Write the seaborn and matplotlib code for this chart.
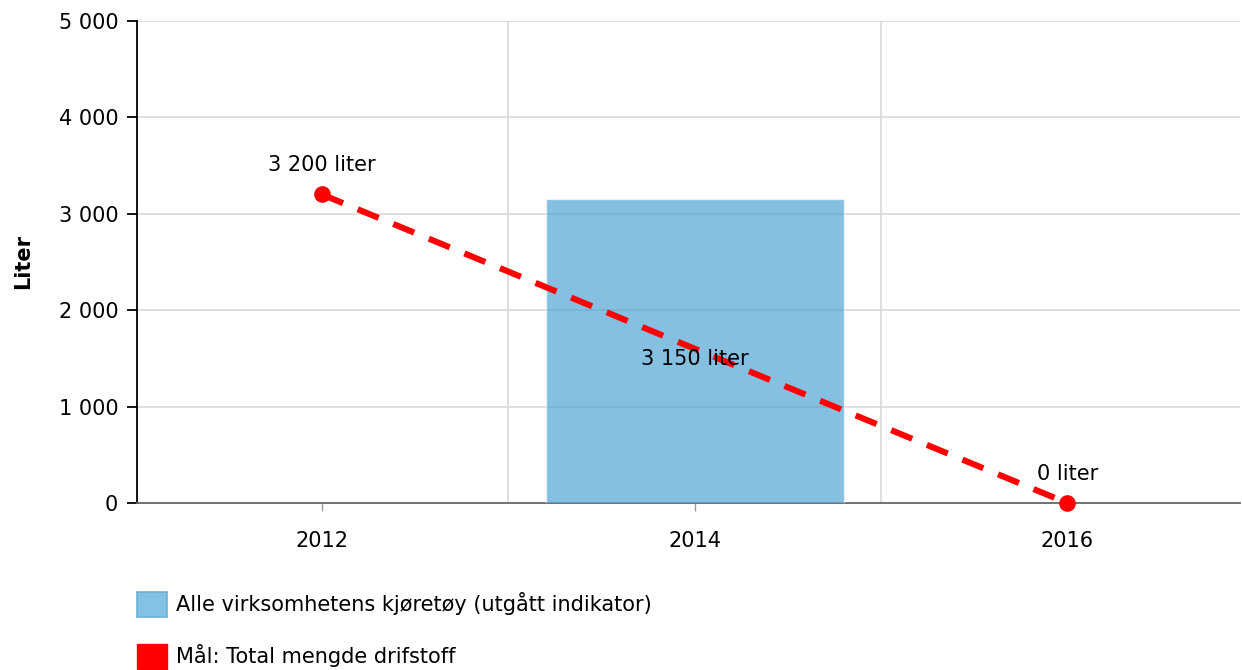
import matplotlib
matplotlib.use("Agg")
import matplotlib.pyplot as plt
import seaborn as sns
import pandas as pd
from matplotlib.patches import Patch

years = ["2012", "2014", "2016"]
bar_years = ["2014"]
bar_values = [3150]
goal_years = ["2012", "2016"]
goal_values = [3200, 0]
bar_name = "Alle virksomhetens kjøretøy (utgått indikator)"
goal_name = "Mål: Total mengde drifstoff"
y_ticks = [0, 1000, 2000, 3000, 4000, 5000]


def fmt(v):
    return f"{v:,}".replace(",", " ")


sns.set_theme(style="white")
plt.rcParams["font.family"] = ["DejaVu Sans"]
plt.rcParams["text.color"] = "black"
fs = 15

fig = plt.figure(figsize=(12.42, 6.70), dpi=100)
ax = fig.add_axes([0.1103, 0.2493, 0.8881, 0.7194])

bar_df = pd.DataFrame({"year": bar_years, "value": bar_values})
sns.barplot(data=bar_df, x="year", y="value", order=years, color="#3a9ad0",
            alpha=0.62, width=0.8, saturation=1, ax=ax, zorder=3)

goal_df = pd.DataFrame({"pos": [years.index(y) for y in goal_years], "value": goal_values})
sns.lineplot(data=goal_df, x="pos", y="value", color="#ff0000", lw=4.4,
             marker="o", markersize=12, markeredgewidth=0, ax=ax, zorder=4,
             dashes=False, linestyle=(0, (3.7, 2.6)), dash_capstyle="butt", clip_on=False)

# labels
for y, v in zip(goal_years, goal_values):
    ax.annotate(f"{fmt(v)} liter", (years.index(y), v), xytext=(0, 14),
                textcoords="offset points", ha="center", va="bottom", fontsize=fs,
                color="black", zorder=5)
for y, v in zip(bar_years, bar_values):
    ax.text(years.index(y), v / 2 - 80, f"{fmt(v)} liter", ha="center", va="center",
            fontsize=fs, color="black", zorder=5)

ax.set_xlim(-0.497, 2.464)
ax.set_ylim(0, 5000)
ax.set_yticks(y_ticks)
ax.set_yticklabels([fmt(t) for t in y_ticks], fontsize=fs)
ax.set_xticks(range(len(years)))
ax.set_xticklabels(years, fontsize=fs)
ax.set_xlabel("")
ax.set_ylabel("Liter", fontsize=fs, fontweight="bold", labelpad=18, color="black")

# grid lines
for t in y_ticks[1:]:
    ax.axhline(t, color="#d9d9d9", lw=1.2, zorder=1)
for b in [0.5, 1.5]:
    ax.axvline(b, color="#d9d9d9", lw=1.2, zorder=1)

for s in ["top", "right"]:
    ax.spines[s].set_visible(False)
ax.spines["left"].set_color("black")
ax.spines["left"].set_linewidth(1.3)
ax.spines["bottom"].set_color("#666666")
ax.spines["bottom"].set_linewidth(1.3)
ax.tick_params(axis="y", length=7.5, width=1.3, color="black", left=True, pad=6, labelcolor="black")
ax.tick_params(axis="x", length=6, width=1, color="#999999", bottom=True, pad=14, labelcolor="black")

handles = [Patch(facecolor="#85c1e2", edgecolor="#6ab0d8", linewidth=1.2),
           Patch(facecolor="#ff0000", edgecolor="#ff0000")]
leg = fig.legend(handles, [bar_name, goal_name], loc="upper left",
                 bbox_to_anchor=(137 / 1242, 1 - 592 / 670), frameon=False, fontsize=fs,
                 handlelength=1.45, handleheight=1.45, handletextpad=0.4, labelspacing=1.3,
                 borderpad=0, borderaxespad=0)
for t in leg.get_texts():
    t.set_color("black")

fig.savefig("out.png", dpi=100)
